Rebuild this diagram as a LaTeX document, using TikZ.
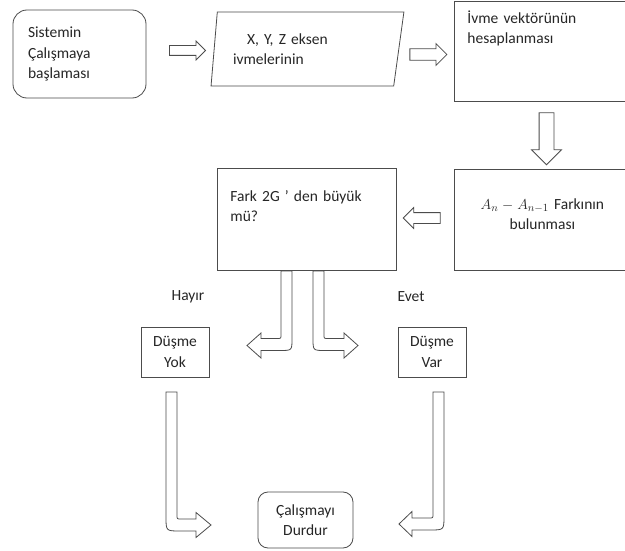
\documentclass[tikz,border=0pt]{standalone}
\usepackage{fontspec}
\setmainfont{Carlito}
\usepackage{tikz}
\usetikzlibrary{arrows.meta,positioning,shapes,calc}

\begin{document}
\begin{tikzpicture}[
  x=1pt, y=-1pt,
  font=\fontsize{15.5pt}{20.5pt}\selectfont,
  every node/.style={text=black!85},
  startstop/.style={draw=black!70, line width=0.8pt, rounded corners=14pt, align=left},
  iobox/.style={draw=black!70, line width=0.8pt, trapezium, trapezium stretches=true,
    trapezium left angle=81.5, trapezium right angle=103.7, align=left, inner sep=2pt},
  procbox/.style={draw=black!70, line width=0.8pt, inner xsep=12.5pt, inner ysep=5pt, anchor=north west},
  smallbox/.style={draw=black!70, line width=0.8pt, align=center, minimum width=68pt, minimum height=50pt, inner sep=2pt},
  blockarrow/.style={draw=black!70, line width=0.8pt, single arrow, single arrow head extend=#1,
    single arrow tip angle=90, inner xsep=0pt},
  bentarrow/.style={draw=black!70, line width=0.8pt, fill=white}
]
\useasboundingbox[fill=white] (0,0) rectangle (625,551);

% boxes
\node [startstop, minimum width=133pt, minimum height=88pt, text width=103pt] (start) at (79.5,54)
  {Sistemin\\Çalışmaya\\başlaması};
\node [iobox, minimum width=193pt, minimum height=74pt, text width=145pt] (input) at (305.5,49)
  {\hspace*{14pt}X, Y, Z eksen\\ivmelerinin};
\node [procbox, minimum width=176pt, minimum height=100.5pt, text width=150pt, align=left,
  text height=17pt, text depth=73.5pt] (vector) at (454,1)
  {İvme vektörünün\\hesaplanması};
\node [procbox, minimum width=176pt, minimum height=101pt, text width=150pt, align=center,
  text height=35pt, text depth=56pt] (diff) at (454,169)
  {$A_n - A_{n-1}$ Farkının\\bulunması};
\node [procbox, minimum width=179pt, minimum height=102pt, text width=153pt, align=left,
  text height=28pt, text depth=64pt] (fark) at (217,168)
  {Fark 2G ’ den büyük\\mü?};
\node [smallbox] (nofall) at (175,352) {Düşme\\Yok};
\node [smallbox] (fall) at (432,352) {Düşme\\Var};
\node [startstop, rounded corners=10pt, align=center, minimum width=95pt, minimum height=56pt] (stop)
  at (305.5,520) {Çalışmayı\\Durdur};

% labels
\node (hayir) at (188,297) {Hayır};
\node (evet) at (411,297) {Evet};

% block arrows
\node [blockarrow=4.5pt, inner ysep=4.5pt, minimum height=36pt] (a1) at (185,50.5) {};
\node [blockarrow=5.2pt, inner ysep=5.3pt, minimum height=37pt] (a2) at (425.5,54.5) {};
\node [blockarrow=7.5pt, inner xsep=7pt, inner ysep=0pt, minimum height=52pt, shape border rotate=270] (a3) at (546.5,135) {};
\node [blockarrow=5pt, inner ysep=5pt, minimum height=37pt, shape border rotate=180] (a4) at (424.5,218) {};

% bent arrows
\draw [bentarrow] (281,271) -- (292,271) -- (292,338.5) .. controls (292,350.5) .. (280,350.5)
  -- (261,350.5) -- (261,358) -- (247,345.5) -- (261,333) -- (261,338.5) -- (277,338.5)
  .. controls (281,338.5) .. (281,334.5) -- cycle;
\draw [bentarrow] (313,271) -- (324,271) -- (324,334.5) .. controls (324,338.5) .. (328,338.5)
  -- (344,338.5) -- (344,333) -- (358,345.5) -- (344,358) -- (344,350.5) -- (325,350.5)
  .. controls (313,350.5) .. (313,338.5) -- cycle;
\draw [bentarrow] (166,392) -- (177,392) -- (177,515) .. controls (177,519) .. (181,519)
  -- (196,519) -- (196,512.5) -- (211,525) -- (196,537.5) -- (196,531) -- (180,531)
  .. controls (166,531) .. (166,517) -- cycle;
\draw [bentarrow] (433,392) -- (444,392) -- (444,516) .. controls (444,530) .. (430,530)
  -- (412,530) -- (412,536.5) -- (399,524) -- (412,511.5) -- (412,518) -- (429,518)
  .. controls (433,518) .. (433,514) -- cycle;
\end{tikzpicture}
\end{document}
